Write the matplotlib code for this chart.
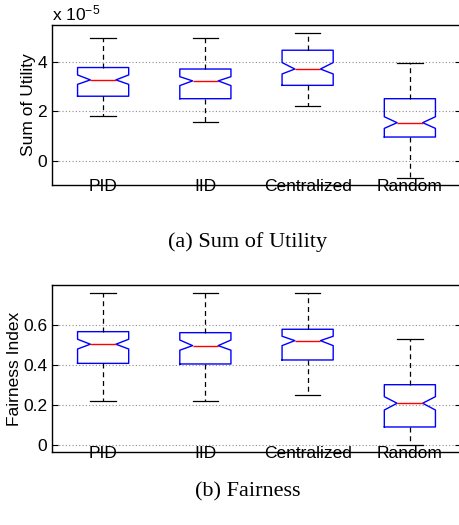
import matplotlib
matplotlib.use("Agg")
import matplotlib.pyplot as plt

plt.rcParams['font.family'] = ['Liberation Sans', 'DejaVu Sans']
plt.rcParams['mathtext.fontset'] = 'custom'
plt.rcParams['mathtext.rm'] = 'Liberation Sans'
plt.rcParams['mathtext.it'] = 'Liberation Sans'

categories = ["PID", "IID", "Centralized", "Random"]

# Sum of Utility (x 1e-5)
util_whislo = [1.82, 1.58, 2.23, -0.71]
util_q1     = [2.61, 2.51, 3.05, 0.96]
util_cilo   = [3.09, 3.04, 3.51, 1.31]
util_med    = [3.27, 3.23, 3.71, 1.54]
util_cihi   = [3.47, 3.40, 3.97, 1.78]
util_q3     = [3.77, 3.71, 4.47, 2.51]
util_whishi = [4.96, 4.96, 5.17, 3.96]

# Fairness index
fair_whislo = [0.219, 0.219, 0.249, 0.000]
fair_q1     = [0.409, 0.406, 0.426, 0.090]
fair_cilo   = [0.481, 0.475, 0.498, 0.175]
fair_med    = [0.505, 0.498, 0.523, 0.209]
fair_cihi   = [0.530, 0.526, 0.545, 0.242]
fair_q3     = [0.568, 0.563, 0.580, 0.302]
fair_whishi = [0.764, 0.764, 0.764, 0.530]

util_ticks = [0, 2, 4]
util_ticklabels = ["0", "2", "4"]
fair_ticks = [0, 0.2, 0.4, 0.6]
fair_ticklabels = ["0", "0.2", "0.4", "0.6"]


def make_stats(lo, q1, cilo, med, cihi, q3, hi):
    out = []
    for i in range(len(categories)):
        out.append(dict(whislo=lo[i], q1=q1[i], cilo=cilo[i], med=med[i],
                        cihi=cihi[i], q3=q3[i], whishi=hi[i], fliers=[],
                        label=categories[i]))
    return out


W, H = 459, 525
fig = plt.figure(figsize=(W / 100, H / 100), dpi=100)


def draw(ax, stats, ticks, ticklabels, ylim, ylabel):
    ax.bxp(stats, positions=range(1, len(stats) + 1), widths=0.5,
           shownotches=True, showfliers=False,
           boxprops=dict(color='blue', lw=1.0),
           medianprops=dict(color='red', lw=1.0),
           whiskerprops=dict(color='black', lw=0.9, linestyle=(0, (4, 3))),
           capprops=dict(color='black', lw=0.9))
    ax.set_xlim(0.5, 4.5)
    ax.set_ylim(*ylim)
    ax.set_yticks(ticks)
    ax.set_yticklabels(ticklabels, fontsize=12.5)
    ax.set_xticks(range(1, len(categories) + 1))
    ax.set_xticklabels(categories, fontsize=12.5)
    ax.tick_params(axis='x', length=0, pad=-4.5)
    ax.tick_params(axis='y', direction='in', length=4, right=True, width=0.8)
    ax.yaxis.grid(True, linestyle=(0, (1, 2)), color='0.55', lw=0.8)
    ax.set_axisbelow(True)
    for s in ax.spines.values():
        s.set_linewidth(1.0)
    ax.set_ylabel(ylabel, fontsize=12.5, labelpad=1)


ax1 = fig.add_axes([52 / W, (H - 185) / H, (461 - 52) / W, 160 / H])
draw(ax1, make_stats(util_whislo, util_q1, util_cilo, util_med, util_cihi, util_q3, util_whishi),
     util_ticks, util_ticklabels, (-0.98, 5.49), "Sum of Utility")
ax1.text(0.0, 1.01, r'x 10$^{-5}$', transform=ax1.transAxes, fontsize=12.5,
         ha='left', va='bottom')

ax2 = fig.add_axes([52 / W, (H - 452.3) / H, (461 - 52) / W, (452.3 - 285) / H])
draw(ax2, make_stats(fair_whislo, fair_q1, fair_cilo, fair_med, fair_cihi, fair_q3, fair_whishi),
     fair_ticks, fair_ticklabels, (-0.037, 0.802), "Fairness Index")

fig.text(247.5 / W, 1 - 242 / H, "(a) Sum of Utility", family='Liberation Serif',
         fontsize=16, ha='center', va='center')
fig.text(247.5 / W, 1 - 492 / H, "(b) Fairness", family='Liberation Serif',
         fontsize=16, ha='center', va='center')

fig.savefig("out.png", dpi=100)
